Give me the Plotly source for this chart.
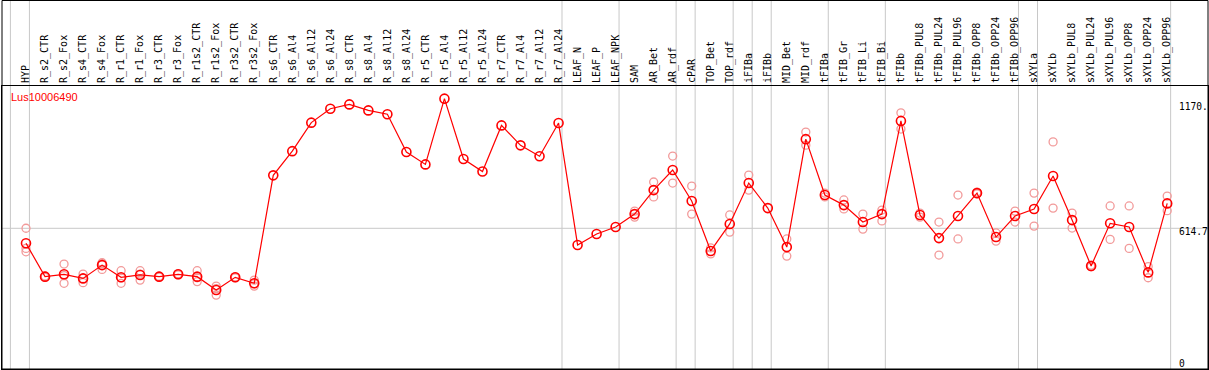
import plotly.graph_objects as go

gene_id = "Lus10006490"

categories = [
    "HYP", "R_s2_CTR", "R_s2_Fox", "R_s4_CTR", "R_s4_Fox", "R_r1_CTR", "R_r1_Fox",
    "R_r3_CTR", "R_r3_Fox", "R_r1s2_CTR", "R_r1s2_Fox", "R_r3s2_CTR", "R_r3s2_Fox",
    "R_s6_CTR", "R_s6_Al4", "R_s6_Al12", "R_s6_Al24", "R_s8_CTR", "R_s8_Al4",
    "R_s8_Al12", "R_s8_Al24", "R_r5_CTR", "R_r5_Al4", "R_r5_Al12", "R_r5_Al24",
    "R_r7_CTR", "R_r7_Al4", "R_r7_Al12", "R_r7_Al24", "LEAF_N", "LEAF_P", "LEAF_NPK",
    "SAM", "AR_Bet", "AR_rdf", "cPAR", "TOP_Bet", "TOP_rdf", "iFIBa", "iFIBb",
    "MID_Bet", "MID_rdf", "tFIBa", "tFIB_Gr", "tFIB_Li", "tFIB_Bi", "tFIBb",
    "tFIBb_PUL8", "tFIBb_PUL24", "tFIBb_PUL96", "tFIBb_OPP8", "tFIBb_OPP24",
    "tFIBb_OPP96", "sXYLa", "sXYLb", "sXYLb_PUL8", "sXYLb_PUL24", "sXYLb_PUL96",
    "sXYLb_OPP8", "sXYLb_OPP24", "sXYLb_OPP96",
]

means = [
    545, 389, 400, 381, 443, 386, 397, 389, 400, 389, 327, 386, 358,
    862, 975, 1108, 1173, 1193, 1165, 1147, 971, 913, 1220, 938, 880,
    1095, 1002, 951, 1106, 537, 588, 621, 681, 793, 887, 742, 509, 635,
    826, 709, 527, 1031, 770, 723, 644, 681, 1116, 677, 569, 672, 779,
    574, 672, 705, 859, 653, 439, 638, 621, 409, 731,
]

replicates = [
    [615, 521, 505], [392, 386], [448, 394, 358], [401, 381, 361], [454, 450, 423],
    [417, 383, 358], [417, 401, 373], [391, 387], [403, 397], [417, 384, 366],
    [345, 333, 303], [388, 384], [373, 356, 345],
    [], [], [], [], [], [], [], [], [], [], [], [], [], [], [], [],
    [], [], [],
    [695, 667], [831, 761], [952, 826], [812, 681], [523, 495], [677, 597],
    [863, 793], [], [565, 485], [1064, 1003], [779, 761], [747, 705], [681, 611],
    [700, 649], [1154, 1078], [686, 667], [644, 490], [770, 565], [784, 775],
    [593, 555], [695, 644], [779, 625], [1018, 709], [686, 616], [443, 435],
    [719, 563], [719, 521], [436, 384], [765, 697],
]

# group separators: after these category indices
separators_after = [-1, 0, 28, 31, 34, 35, 37, 38, 39, 42, 45, 52, 53, 60]

reference_value = 614.7
ytick_values = [0, 614.7, 1170]
ytick_texts = ["0", "614.7", "1170."]
ytick_shifts = [-3, -3, 3]

idx = list(range(len(categories)))
rep_x, rep_y = [], []
for i, reps in enumerate(replicates):
    for v in reps:
        rep_x.append(i)
        rep_y.append(v)

RED = "#ff0000"
PINK = "#f29a9a"
GRAY = "rgb(200,200,200)"

fig = go.Figure()
fig.add_trace(go.Scatter(
    x=rep_x, y=rep_y, mode="markers",
    marker=dict(symbol="circle-open", size=8, color=PINK, line=dict(width=1.3, color=PINK)),
    hoverinfo="skip", showlegend=False,
))
fig.add_trace(go.Scatter(
    x=idx, y=means, mode="lines+markers",
    line=dict(color=RED, width=1.2),
    marker=dict(symbol="circle-open", size=9, color=RED, line=dict(width=1.6, color=RED)),
    showlegend=False,
))

shapes = []
for s in separators_after:
    shapes.append(dict(type="line", xref="x", yref="paper", x0=s + 0.18, x1=s + 0.18,
                       y0=-0.01, y1=1.31, line=dict(color=GRAY, width=1), layer="below"))
shapes.append(dict(type="line", xref="paper", yref="y", x0=0, x1=1,
                   y0=reference_value, y1=reference_value,
                   line=dict(color=GRAY, width=1), layer="below"))
# outer frame around header area
shapes.append(dict(type="rect", xref="paper", yref="paper", x0=0, x1=1, y0=0, y1=1.3021,
                   line=dict(color="black", width=1), fillcolor="rgba(0,0,0,0)", layer="above"))

annotations = [dict(text=gene_id, xref="paper", yref="paper", x=0.0058, y=0.961,
                    xanchor="left", yanchor="middle", showarrow=False,
                    font=dict(family="Liberation Sans", size=11, color=RED))]
for v, t, sh in zip(ytick_values, ytick_texts, ytick_shifts):
    annotations.append(dict(text=t, xref="paper", yref="y", x=0.9743, y=v,
                            xanchor="left", yanchor="middle", yshift=sh, showarrow=False,
                            font=dict(family="DejaVu Sans Mono", size=9.6, color="black")))

fig.update_layout(
    width=1209, height=370,
    margin=dict(l=2, r=1, t=86, b=1, pad=0),
    paper_bgcolor="white", plot_bgcolor="white",
    shapes=shapes, annotations=annotations,
    xaxis=dict(range=[-1.262, 62.145], side="top", tickmode="array", tickvals=idx,
               ticktext=categories, tickangle=-90, ticks="", showgrid=False, zeroline=False,
               showline=True, mirror=True, linecolor="black", linewidth=1, automargin=False,
               tickfont=dict(family="DejaVu Sans Mono", size=10, color="black")),
    yaxis=dict(range=[-42, 1279], showticklabels=False, showgrid=False, zeroline=False,
               showline=True, mirror=True, linecolor="black", linewidth=1, automargin=False),
)

fig.write_html("out.html", config={"displayModeBar": False},
               post_script="document.body.style.margin='0';document.body.style.overflow='hidden';")
